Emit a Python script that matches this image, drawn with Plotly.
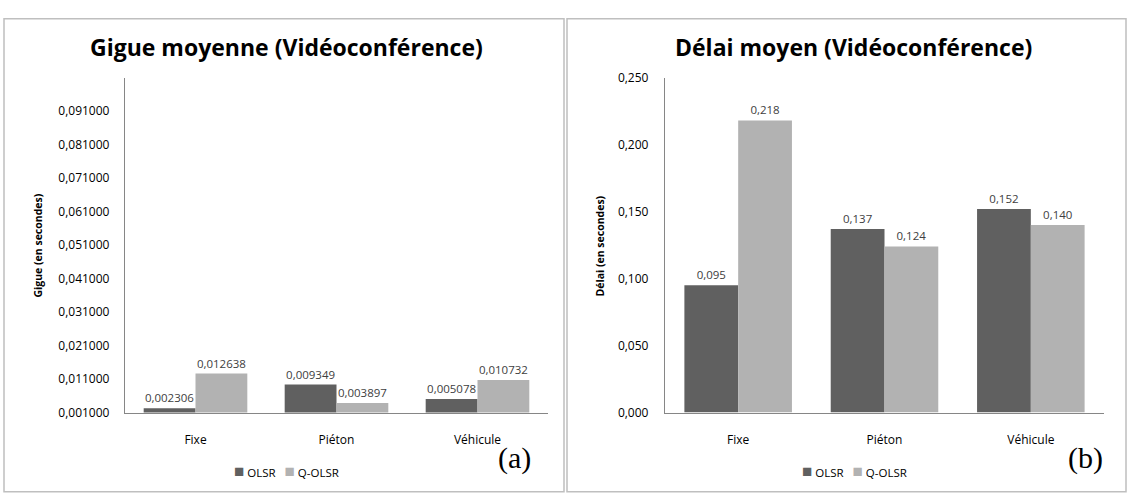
import plotly.graph_objects as go

categories = ["Fixe", "Piéton", "Véhicule"]
series_names = ["OLSR", "Q-OLSR"]
gigue_olsr = [0.002306, 0.009349, 0.005078]
gigue_qolsr = [0.012638, 0.003897, 0.010732]
delai_olsr = [0.095, 0.137, 0.152]
delai_qolsr = [0.218, 0.124, 0.140]
gigue_ticks = [0.001, 0.011, 0.021, 0.031, 0.041, 0.051, 0.061, 0.071, 0.081, 0.091]
delai_ticks = [0.0, 0.05, 0.10, 0.15, 0.20, 0.25]

DARK = "#606060"
LIGHT = "#b2b2b2"
FONT = "Open Sans"
W, H = 1128, 493

def px(x):
    return x / W

def py(y):
    return 1 - y / H

fig = go.Figure()
lbl = dict(family=FONT, size=11.5, color="#404040")

for vals, col, nm in [(gigue_olsr, DARK, series_names[0]), (gigue_qolsr, LIGHT, series_names[1])]:
    fig.add_trace(go.Bar(x=categories, y=vals, name=nm, marker_color=col, marker_line_width=0,
                         xaxis="x", yaxis="y", showlegend=False,
                         texttemplate="%{y:.6f}", textposition="outside", textfont=lbl, cliponaxis=False))
for vals, col, nm in [(delai_olsr, DARK, series_names[0]), (delai_qolsr, LIGHT, series_names[1])]:
    fig.add_trace(go.Bar(x=categories, y=vals, name=nm, marker_color=col, marker_line_width=0,
                         xaxis="x2", yaxis="y2", showlegend=False,
                         texttemplate="%{y:.3f}", textposition="outside", textfont=lbl, cliponaxis=False))

axis_common = dict(showgrid=False, zeroline=False, showline=True, linecolor="#868686", linewidth=1.3,
                   tickfont=dict(family=FONT, size=12, color="#000000"), ticks="")

fig.update_layout(
    width=W, height=H,
    margin=dict(l=0, r=0, t=0, b=0),
    paper_bgcolor="white", plot_bgcolor="white",
    separators=", ",
    barmode="group", bargap=0.265, bargroupgap=0,
    uniformtext=dict(minsize=8, mode="show"),
    xaxis=dict(domain=[px(125), px(548)], anchor="y", ticklabelstandoff=16, **axis_common),
    yaxis=dict(domain=[py(418), py(71)], anchor="x", range=[0.001, 0.101],
               tickvals=gigue_ticks, tickformat=".6f", ticklabelstandoff=12, **axis_common),
    xaxis2=dict(domain=[px(665), px(1104)], anchor="y2", ticklabelstandoff=16, **axis_common),
    yaxis2=dict(domain=[py(418), py(71)], anchor="x2", range=[0, 0.25],
                tickvals=delai_ticks, tickformat=".3f", ticklabelstandoff=13, **axis_common),
    showlegend=False,
)

fig.update_layout(shapes=[
    dict(type="rect", xref="paper", yref="paper", x0=px(4), x1=px(564), y0=py(500), y1=py(10),
         line=dict(color="#bfbfbf", width=1.5), fillcolor="rgba(0,0,0,0)", layer="below"),
    dict(type="rect", xref="paper", yref="paper", x0=px(567), x1=px(1126), y0=py(500), y1=py(10),
         line=dict(color="#bfbfbf", width=1.5), fillcolor="rgba(0,0,0,0)", layer="below"),
])

def legend_text():
    return (f'<span style="color:{DARK};font-size:17px">■</span> {series_names[0]}   '
            f'<span style="color:{LIGHT};font-size:17px">■</span> {series_names[1]}')

ann = [
    dict(text="<b>Gigue moyenne (Vidéoconférence)</b>", x=px(286), y=py(39),
         font=dict(family=FONT, size=23, color="#000")),
    dict(text="<b>Délai moyen (Vidéoconférence)</b>", x=px(853), y=py(39),
         font=dict(family=FONT, size=23, color="#000")),
    dict(text="<b>Gigue (en secondes)</b>", x=px(38), y=py(245), textangle=-90,
         font=dict(family=FONT, size=10.5, color="#000")),
    dict(text="<b>Délai (en secondes)</b>", x=px(600), y=py(246), textangle=-90,
         font=dict(family=FONT, size=10.5, color="#000")),
    dict(text="(a)", x=px(514), y=py(465), font=dict(family="Liberation Serif", size=30, color="#000")),
    dict(text="(b)", x=px(1085), y=py(465), font=dict(family="Liberation Serif", size=30, color="#000")),
    dict(text=legend_text(), x=px(286), y=py(478), font=dict(family=FONT, size=11.5, color="#000")),
    dict(text=legend_text(), x=px(854), y=py(478), font=dict(family=FONT, size=11.5, color="#000")),
]
for a in ann:
    a.update(xref="paper", yref="paper", showarrow=False, xanchor="center", yanchor="middle")
fig.update_layout(annotations=ann)

fig.write_html("out.html", config={"displayModeBar": False},
               post_script="document.body.style.margin='0';")
